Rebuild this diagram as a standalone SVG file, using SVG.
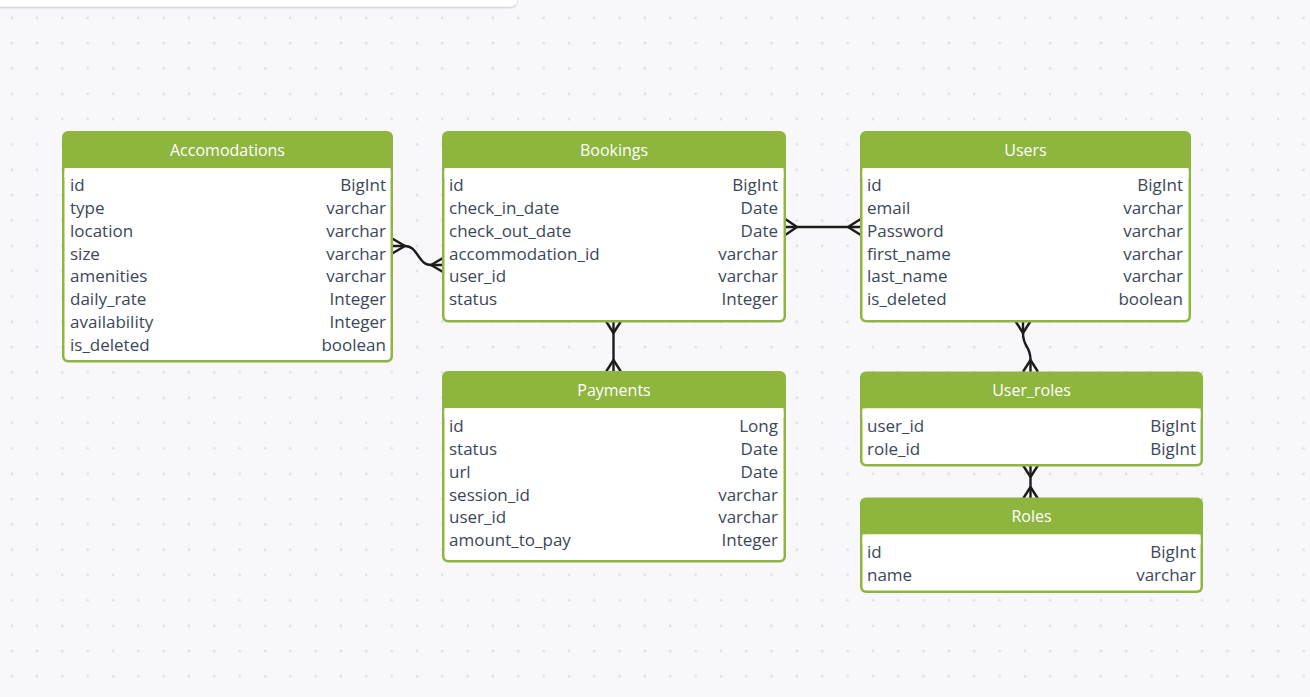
<svg xmlns="http://www.w3.org/2000/svg" width="1310" height="697" viewBox="0 0 1310 697">
<defs>
<pattern id="dots" x="11.7" y="17.8" width="25.33" height="25.33" patternUnits="userSpaceOnUse">
<circle cx="0" cy="0" r="1.4" fill="#dfe0e5"/>
<circle cx="25.33" cy="0" r="1.4" fill="#dfe0e5"/>
<circle cx="0" cy="25.33" r="1.4" fill="#dfe0e5"/>
<circle cx="25.33" cy="25.33" r="1.4" fill="#dfe0e5"/>
</pattern>
<filter id="sh" x="-5%" y="-100%" width="110%" height="300%">
<feDropShadow dx="0" dy="1" stdDeviation="1" flood-color="#000" flood-opacity="0.25"/>
</filter>
</defs>
<style>
.frame{fill:#8eb63f}
.body{fill:#ffffff}
.title{font-family:"Open Sans","Noto Sans",sans-serif;font-size:16px;fill:#ffffff;text-anchor:middle}
.f{font-family:"Open Sans","Noto Sans",sans-serif;font-size:17px;fill:#3b4758}
.t{font-family:"Open Sans","Noto Sans",sans-serif;font-size:17px;fill:#3b4758;text-anchor:end}
.ln{fill:none;stroke:#1c1c1c;stroke-width:2.4;stroke-linecap:round;stroke-linejoin:round}
</style>
<rect width="1310" height="697" fill="#f8f8fa"/>
<rect width="1310" height="697" fill="url(#dots)"/>
<rect x="-10" y="-12" width="527" height="18.5" rx="6" fill="#ffffff" filter="url(#sh)"/>

<g id="connectors">
<g id="acc-book">
<path class="ln" d="M393,246 L405,246 C418,246 418,265 431,265 L443,265"/>
<path class="ln" d="M393,239 L405,246 L393,253"/>
<path class="ln" d="M443,258 L431,265 L443,272"/>
</g>
<g id="book-users">
<path class="ln" d="M786,227 L860,227"/>
<path class="ln" d="M786,219.5 L797,227 L786,234.5"/>
<path class="ln" d="M860,219.5 L848,227 L860,234.5"/>
</g>
<g id="book-pay">
<path class="ln" d="M613.5,322 L613.5,371"/>
<path class="ln" d="M606.5,322 L613.5,333 L620.5,322"/>
<path class="ln" d="M606.5,371 L613.5,360 L620.5,371"/>
</g>
<g id="users-uroles">
<path class="ln" d="M1023,322 L1023,333 C1023,348 1030.5,345 1030.5,360 L1030.5,371"/>
<path class="ln" d="M1016,322 L1023,333 L1030,322"/>
<path class="ln" d="M1023.5,371 L1030.5,360 L1037.5,371"/>
</g>
<g id="uroles-roles">
<path class="ln" d="M1030.5,466 L1030.5,498"/>
<path class="ln" d="M1023.5,466 L1030.5,477 L1037.5,466"/>
<path class="ln" d="M1023.5,498 L1030.5,487 L1037.5,498"/>
</g>
</g>

<g id="accomodations">
<rect class="frame" x="62" y="131" width="331" height="231.5" rx="6"/>
<rect class="body" x="64.5" y="168" width="326" height="192" rx="4"/>
<rect class="body" x="64.5" y="168" width="326" height="10"/>
<text class="title" x="227.5" y="155.5">Accomodations</text>
<text class="f" x="70" y="191">id</text><text class="t" x="386" y="191">BigInt</text>
<text class="f" x="70" y="213.9">type</text><text class="t" x="386" y="213.9">varchar</text>
<text class="f" x="70" y="236.7">location</text><text class="t" x="386" y="236.7">varchar</text>
<text class="f" x="70" y="259.6">size</text><text class="t" x="386" y="259.6">varchar</text>
<text class="f" x="70" y="282.4">amenities</text><text class="t" x="386" y="282.4">varchar</text>
<text class="f" x="70" y="305.3">daily_rate</text><text class="t" x="386" y="305.3">Integer</text>
<text class="f" x="70" y="328.2">availability</text><text class="t" x="386" y="328.2">Integer</text>
<text class="f" x="70" y="351">is_deleted</text><text class="t" x="386" y="351">boolean</text>
</g>

<g id="bookings">
<rect class="frame" x="442" y="131" width="344" height="191.5" rx="6"/>
<rect class="body" x="444.5" y="168" width="339" height="152" rx="4"/>
<rect class="body" x="444.5" y="168" width="339" height="10"/>
<text class="title" x="614" y="155.5">Bookings</text>
<text class="f" x="449" y="191">id</text><text class="t" x="778" y="191">BigInt</text>
<text class="f" x="449" y="213.9">check_in_date</text><text class="t" x="778" y="213.9">Date</text>
<text class="f" x="449" y="236.7">check_out_date</text><text class="t" x="778" y="236.7">Date</text>
<text class="f" x="449" y="259.6">accommodation_id</text><text class="t" x="778" y="259.6">varchar</text>
<text class="f" x="449" y="282.4">user_id</text><text class="t" x="778" y="282.4">varchar</text>
<text class="f" x="449" y="305.3">status</text><text class="t" x="778" y="305.3">Integer</text>
</g>

<g id="users">
<rect class="frame" x="860" y="131" width="331" height="191.5" rx="6"/>
<rect class="body" x="862.5" y="168" width="326" height="152" rx="4"/>
<rect class="body" x="862.5" y="168" width="326" height="10"/>
<text class="title" x="1025.5" y="155.5">Users</text>
<text class="f" x="867" y="191">id</text><text class="t" x="1183" y="191">BigInt</text>
<text class="f" x="867" y="213.9">email</text><text class="t" x="1183" y="213.9">varchar</text>
<text class="f" x="867" y="236.7">Password</text><text class="t" x="1183" y="236.7">varchar</text>
<text class="f" x="867" y="259.6">first_name</text><text class="t" x="1183" y="259.6">varchar</text>
<text class="f" x="867" y="282.4">last_name</text><text class="t" x="1183" y="282.4">varchar</text>
<text class="f" x="867" y="305.3">is_deleted</text><text class="t" x="1183" y="305.3">boolean</text>
</g>

<g id="payments">
<rect class="frame" x="442" y="371" width="344" height="191.5" rx="6"/>
<rect class="body" x="444.5" y="408" width="339" height="152" rx="4"/>
<rect class="body" x="444.5" y="408" width="339" height="10"/>
<text class="title" x="614" y="395.5">Payments</text>
<text class="f" x="449" y="432">id</text><text class="t" x="778" y="432">Long</text>
<text class="f" x="449" y="454.9">status</text><text class="t" x="778" y="454.9">Date</text>
<text class="f" x="449" y="477.7">url</text><text class="t" x="778" y="477.7">Date</text>
<text class="f" x="449" y="500.6">session_id</text><text class="t" x="778" y="500.6">varchar</text>
<text class="f" x="449" y="523.4">user_id</text><text class="t" x="778" y="523.4">varchar</text>
<text class="f" x="449" y="546.3">amount_to_pay</text><text class="t" x="778" y="546.3">Integer</text>
</g>

<g id="user_roles">
<rect class="frame" x="860" y="371.5" width="343" height="95" rx="6"/>
<rect class="body" x="862.5" y="408.5" width="338" height="55.5" rx="4"/>
<rect class="body" x="862.5" y="408.5" width="338" height="10"/>
<text class="title" x="1031.5" y="395.5">User_roles</text>
<text class="f" x="867" y="432">user_id</text><text class="t" x="1196" y="432">BigInt</text>
<text class="f" x="867" y="454.9">role_id</text><text class="t" x="1196" y="454.9">BigInt</text>
</g>

<g id="roles">
<rect class="frame" x="860" y="497.5" width="343" height="95.5" rx="6"/>
<rect class="body" x="862.5" y="534.5" width="338" height="56" rx="4"/>
<rect class="body" x="862.5" y="534.5" width="338" height="10"/>
<text class="title" x="1031.5" y="522">Roles</text>
<text class="f" x="867" y="558">id</text><text class="t" x="1196" y="558">BigInt</text>
<text class="f" x="867" y="580.9">name</text><text class="t" x="1196" y="580.9">varchar</text>
</g>
</svg>
